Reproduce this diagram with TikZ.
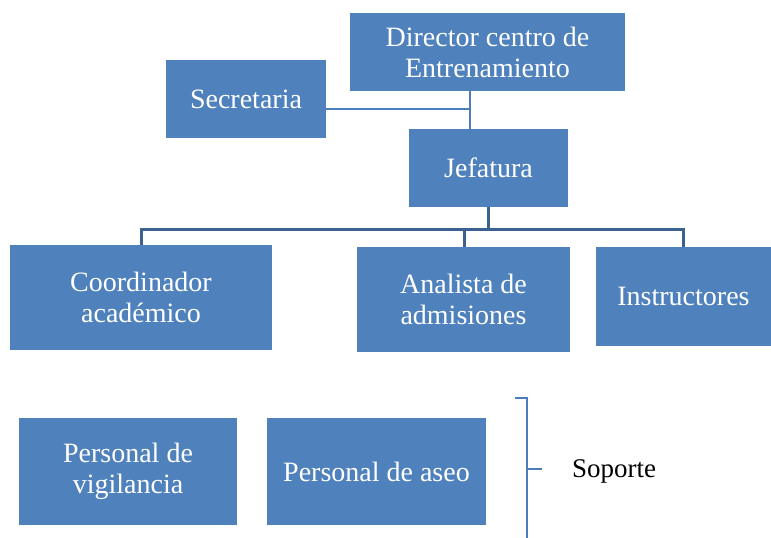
\documentclass[tikz,border=0pt]{standalone}
\usepackage{fontspec}
\setmainfont{Liberation Serif}
\usepackage{tikz}
\usetikzlibrary{positioning}
\usepackage{xcolor}
\definecolor{azul}{HTML}{4F81BD}
\definecolor{azuloscuro}{HTML}{3A6190}
\definecolor{azulclaro}{HTML}{4A7EBB}
\tikzset{
caja/.style={fill=azul, text=white, inner sep=0pt, align=center, font=\fontsize{28}{31}\selectfont},
rama/.style={azuloscuro, line width=3pt},
linea/.style={azulclaro, line width=1.5pt}
}

\begin{document}
\begin{tikzpicture}[x=1pt,y=-1pt]
\useasboundingbox (0,0) rectangle (771,538);
\node[caja, minimum width=275, minimum height=78] (dir) at (487.5,52) {Director centro de\\Entrenamiento};
\node[caja, minimum width=160, minimum height=78] (sec) at (246,99) {Secretaria};
\node[caja, minimum width=159, minimum height=78] (jef) at (488.5,168) {Jefatura};
\node[caja, minimum width=262, minimum height=105] (coo) at (141,297.5) {Coordinador\\acad\'emico};
\node[caja, minimum width=213, minimum height=105] (ana) at (463.5,299.5) {Analista de\\admisiones};
\node[caja, minimum width=175, minimum height=99] (ins) at (683.5,296.5) {Instructores};
\node[caja, minimum width=218, minimum height=107] (vig) at (128,471.5) {Personal de\\vigilancia};
\node[caja, minimum width=219, minimum height=107] (ase) at (376.5,471.5) {Personal de aseo};
%\node (sop) at (614,467) {Soporte};
\node[anchor=base, font=\fontsize{27}{30}\selectfont] (sop) at (614,477) {Soporte};
% lineas
\coordinate (cruce) at (470,109);
\draw[linea] (dir.south -| cruce) -- (jef.north -| cruce);
\draw[linea] (sec.east |- cruce) -- (cruce);
\coordinate (bus) at (488,229);
\draw[rama] (jef.south -| bus) -- (bus);
\draw[rama] (coo.north) |- (bus) -| (ins.north);
\draw[rama] (ana.north -| 464,0) -- (464,229);
% llave
\coordinate (ll1) at (527,398);
\coordinate (ll2) at (527,538);
\draw[azulclaro, line width=1.5pt] (515,398) -- (ll1) -- (ll2);
\draw[azulclaro, line width=1.5pt] (527,469) -- (542,469);
\end{tikzpicture}
\end{document}
